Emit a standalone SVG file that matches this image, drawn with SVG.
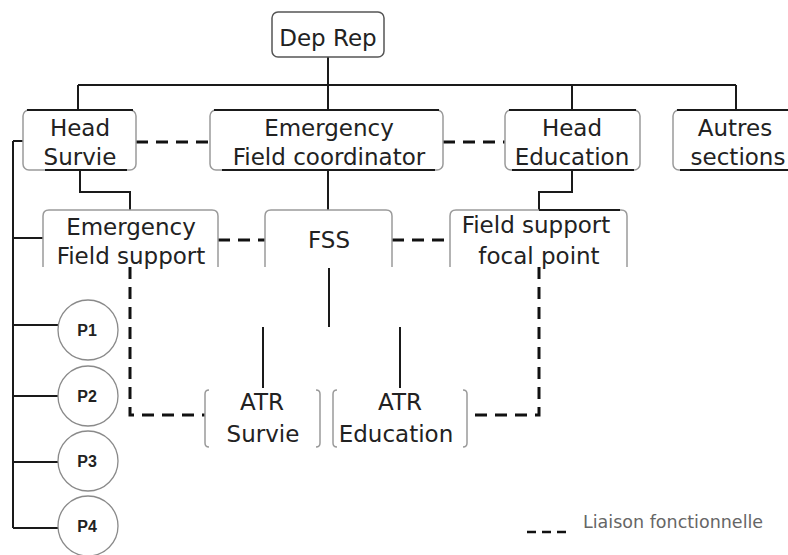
<svg xmlns="http://www.w3.org/2000/svg" width="788" height="555" viewBox="0 0 788 555">
<defs>
<style>
.box{fill:#fff;stroke:#9a9a9a;stroke-width:1.5}
.edge{fill:none;stroke:#1a1a1a;stroke-width:2}
.t{font-family:"DejaVu Sans","Liberation Sans",sans-serif;font-size:23px;fill:#222;text-anchor:middle}
.p{font-family:"Liberation Sans",Arial,sans-serif;font-size:16px;font-weight:bold;fill:#222;text-anchor:middle}
.circ{fill:#fff;stroke:#8a8a8a;stroke-width:1.3}
.solid{fill:none;stroke:#1a1a1a;stroke-width:2}
.dash{fill:none;stroke:#111;stroke-width:3;stroke-dasharray:12 8}
.side{fill:none;stroke:#9a9a9a;stroke-width:1.5}
</style>
</defs>
<rect width="788" height="555" fill="#fff"/>
<g id="connectors">
<path class="solid" d="M328 57V110M78 85H736M78 85V110M572 85V110M736 85V110M328 170V210M80 170V192H130V210M572 170V192H539V210M13 141H23M13 141V528M13 238H43M13 325H58M13 396H58M13 462H58M13 528H58M329 268V327M263 327V388M400 327V388"/>
<path class="dash" d="M136 142H210M443 142H505M218 240H265M392 240H450M130 267V415H205M539 267V415H467"/>
</g>
<g id="dep-rep">
<rect class="box" x="272" y="12" width="112" height="45" rx="6" style="stroke:#555"/>
<text class="t" x="328" y="46">Dep Rep</text>
</g>
<g id="head-survie">
<rect class="box" x="23" y="110" width="113" height="60" rx="6"/>
<path class="edge" d="M27 110H133M45 170H127"/>
<text class="t" x="80" y="136">Head</text>
<text class="t" x="80" y="165">Survie</text>
</g>
<g id="emergency-field-coordinator">
<rect class="box" x="210" y="110" width="233" height="60" rx="6"/>
<path class="edge" d="M214 110H439M222 170H435"/>
<text class="t" x="329" y="136">Emergency</text>
<text class="t" x="329" y="165">Field coordinator</text>
</g>
<g id="head-education">
<rect class="box" x="505" y="110" width="135" height="60" rx="6"/>
<path class="edge" d="M509 110H636M512 170H634"/>
<text class="t" x="572" y="136">Head</text>
<text class="t" x="572" y="165">Education</text>
</g>
<g id="autres-sections">
<rect class="box" x="673" y="110" width="125" height="60" rx="6"/>
<path class="edge" d="M677 110H790M680 170H790"/>
<text class="t" x="735" y="136">Autres</text>
<text class="t" x="738" y="165">sections</text>
</g>
<g id="emergency-field-support">
<path class="side" d="M43 267V216Q43 210 49 210H212Q218 210 218 216V267"/>
<text class="t" x="131" y="235">Emergency</text>
<text class="t" x="131" y="264">Field support</text>
</g>
<g id="fss">
<path class="side" d="M265 267V216Q265 210 271 210H386Q392 210 392 216V267"/>
<text class="t" x="329" y="248">FSS</text>
</g>
<g id="field-support-focal-point">
<path class="side" d="M450 267V216Q450 210 456 210H621Q627 210 627 216V267"/>
<path class="edge" d="M539 210H620"/>
<text class="t" x="536" y="233">Field support</text>
<text class="t" x="539" y="264">focal point</text>
</g>
<g id="atr-survie">
<path class="side" d="M209 390Q205 390 205 394V443Q205 447 209 447M316 390Q320 390 320 394V443Q320 447 316 447"/>
<text class="t" x="262" y="410">ATR</text>
<text class="t" x="263" y="442">Survie</text>
</g>
<g id="atr-education">
<path class="side" d="M337 390Q333 390 333 394V443Q333 447 337 447M463 390Q467 390 467 394V443Q467 447 463 447"/>
<text class="t" x="400" y="410">ATR</text>
<text class="t" x="396" y="442">Education</text>
</g>
<g id="p1"><circle class="circ" cx="88" cy="330" r="30"/><text class="p" x="87" y="336">P1</text></g>
<g id="p2"><circle class="circ" cx="88" cy="396" r="30"/><text class="p" x="87" y="402">P2</text></g>
<g id="p3"><circle class="circ" cx="88" cy="461" r="30"/><text class="p" x="87" y="467">P3</text></g>
<g id="p4"><circle class="circ" cx="88" cy="526" r="30"/><text class="p" x="87" y="532">P4</text></g>
<g id="legend">
<path class="dash" d="M527 532H567" style="stroke-width:2.5;stroke-dasharray:9 6"/>
<text x="583" y="528" style="font-family:'DejaVu Sans','Liberation Sans',sans-serif;font-size:17.5px;fill:#666">Liaison fonctionnelle</text>
</g>
</svg>
